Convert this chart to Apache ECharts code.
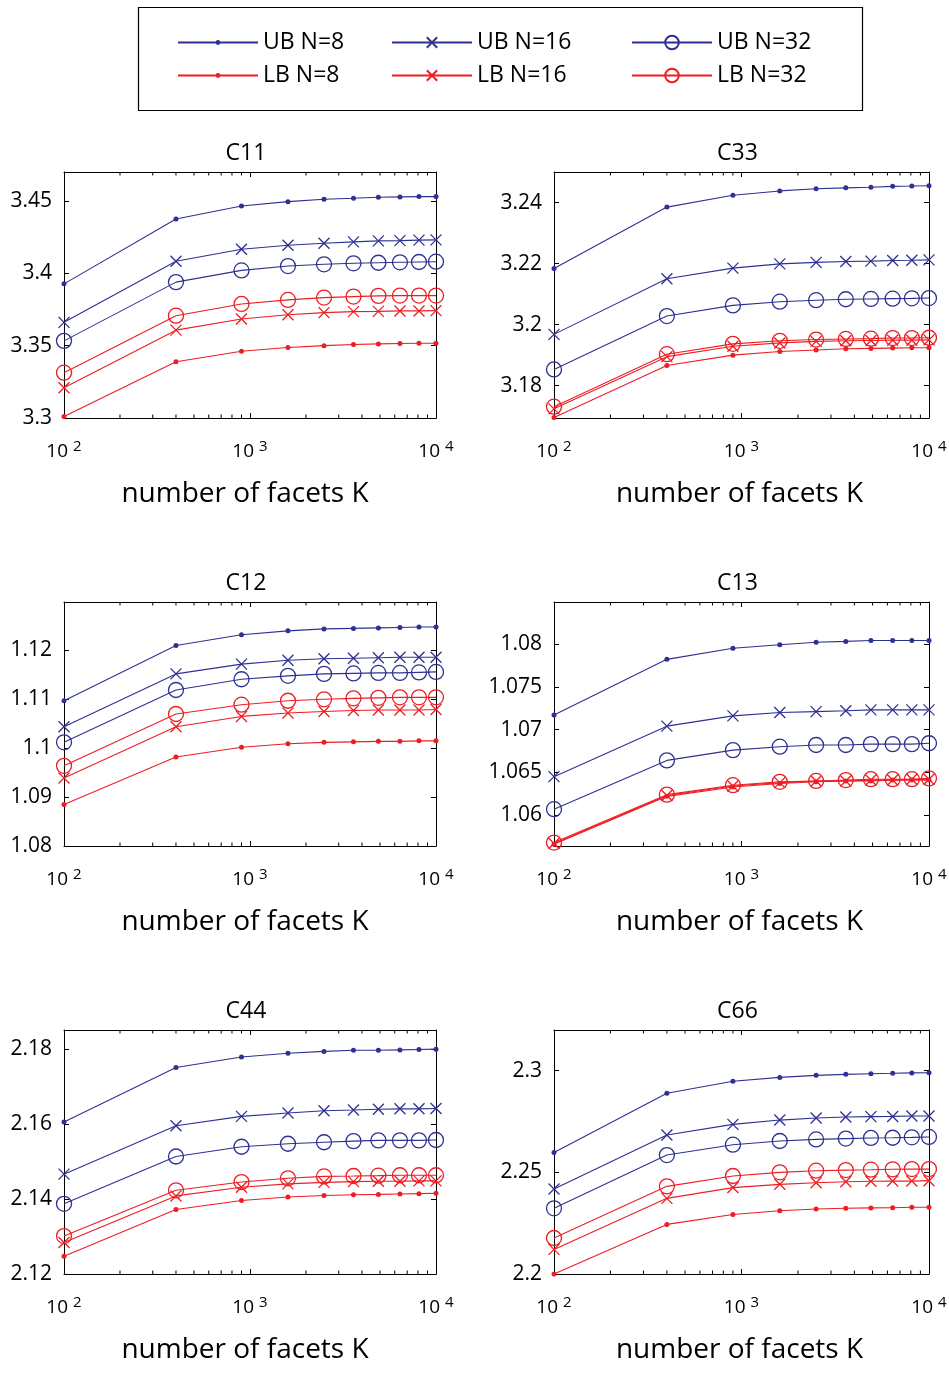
<!DOCTYPE html>
<html>
<head>
<meta charset="utf-8">
<script src="https://cdn.jsdelivr.net/npm/echarts@6/dist/echarts.min.js"></script>
<style>
html,body{margin:0;padding:0;background:#fff;}
#chart{width:949px;height:1374px;}
</style>
</head>
<body>
<div id="chart"></div>
<script>
// ---- data ----
const K = [100, 400, 900, 1600, 2500, 3600, 4900, 6400, 8100, 10000];
const minorK = [200, 300, 400, 500, 600, 700, 800, 900, 2000, 3000, 4000, 5000, 6000, 7000, 8000, 9000];
const seriesNames = ['UB N=8', 'UB N=16', 'UB N=32', 'LB N=8', 'LB N=16', 'LB N=32'];
const panelTitles = ['C11', 'C33', 'C12', 'C13', 'C44', 'C66'];
const yMinArr = [3.3, 3.1694, 1.08, 1.0564, 2.12, 2.2];
const yMaxArr = [3.47, 3.25, 1.1299, 1.0849, 2.185, 2.32];
const yStepArr = [0.05, 0.02, 0.01, 0.005, 0.02, 0.05];

const C11_UB8  = [3.3927, 3.4375, 3.4465, 3.4495, 3.4512, 3.4519, 3.4525, 3.4528, 3.4530, 3.4530];
const C11_UB16 = [3.3661, 3.4083, 3.4166, 3.4194, 3.4208, 3.4217, 3.4224, 3.4226, 3.4229, 3.4231];
const C11_UB32 = [3.3533, 3.3939, 3.4020, 3.4050, 3.4062, 3.4069, 3.4073, 3.4076, 3.4078, 3.4080];
const C11_LB8  = [3.3011, 3.3389, 3.3461, 3.3487, 3.3500, 3.3508, 3.3512, 3.3515, 3.3517, 3.3517];
const C11_LB16 = [3.3209, 3.3607, 3.3684, 3.3714, 3.3728, 3.3735, 3.3737, 3.3740, 3.3740, 3.3742];
const C11_LB32 = [3.3313, 3.3707, 3.3788, 3.3816, 3.3832, 3.3839, 3.3844, 3.3846, 3.3846, 3.3846];

const C33_UB8  = [3.2184, 3.2385, 3.2424, 3.2438, 3.2445, 3.2448, 3.2450, 3.2453, 3.2454, 3.2455];
const C33_UB16 = [3.1968, 3.2150, 3.2185, 3.2199, 3.2204, 3.2207, 3.2208, 3.2210, 3.2211, 3.2212];
const C33_UB32 = [3.1853, 3.2028, 3.2063, 3.2075, 3.2080, 3.2083, 3.2084, 3.2085, 3.2086, 3.2087];
const C33_LB8  = [3.1696, 3.1866, 3.1900, 3.1912, 3.1917, 3.1921, 3.1922, 3.1923, 3.1924, 3.1924];
const C33_LB16 = [3.1724, 3.1895, 3.1929, 3.1940, 3.1945, 3.1947, 3.1948, 3.1949, 3.1949, 3.1950];
const C33_LB32 = [3.1731, 3.1903, 3.1937, 3.1947, 3.1951, 3.1953, 3.1954, 3.1956, 3.1956, 3.1957];

const C12_UB8  = [1.1097, 1.1210, 1.1232, 1.1240, 1.1244, 1.1245, 1.1246, 1.1247, 1.1248, 1.1248];
const C12_UB16 = [1.1044, 1.1152, 1.1172, 1.1180, 1.1183, 1.1184, 1.1185, 1.1186, 1.1186, 1.1186];
const C12_UB32 = [1.1012, 1.1119, 1.1141, 1.1148, 1.1152, 1.1153, 1.1154, 1.1154, 1.1155, 1.1156];
const C12_LB8  = [1.0885, 1.0982, 1.1002, 1.1009, 1.1012, 1.1013, 1.1014, 1.1014, 1.1015, 1.1015];
const C12_LB16 = [1.0939, 1.1044, 1.1065, 1.1072, 1.1075, 1.1077, 1.1078, 1.1078, 1.1078, 1.1079];
const C12_LB32 = [1.0964, 1.1070, 1.1089, 1.1097, 1.1100, 1.1102, 1.1103, 1.1104, 1.1104, 1.1104];

const C13_UB8  = [1.0717, 1.0782, 1.0795, 1.0799, 1.0802, 1.0803, 1.0804, 1.0804, 1.0804, 1.0804];
const C13_UB16 = [1.0645, 1.0704, 1.0716, 1.0720, 1.0721, 1.0722, 1.0723, 1.0723, 1.0723, 1.0723];
const C13_UB32 = [1.0607, 1.0664, 1.0676, 1.0680, 1.0682, 1.0682, 1.0683, 1.0683, 1.0683, 1.0684];
const C13_LB8  = [1.0566, 1.0622, 1.0633, 1.0637, 1.0639, 1.0640, 1.0640, 1.0641, 1.0641, 1.0641];
const C13_LB16 = [1.0567, 1.0623, 1.0634, 1.0638, 1.0640, 1.0640, 1.0641, 1.0641, 1.0642, 1.0642];
const C13_LB32 = [1.0568, 1.0624, 1.0635, 1.0639, 1.0640, 1.0641, 1.0642, 1.0642, 1.0642, 1.0643];

const C44_UB8  = [2.1605, 2.1750, 2.1778, 2.1788, 2.1793, 2.1796, 2.1796, 2.1797, 2.1798, 2.1799];
const C44_UB16 = [2.1466, 2.1595, 2.1620, 2.1629, 2.1635, 2.1637, 2.1639, 2.1640, 2.1640, 2.1641];
const C44_UB32 = [2.1387, 2.1513, 2.1539, 2.1547, 2.1551, 2.1554, 2.1556, 2.1556, 2.1556, 2.1557];
const C44_LB8  = [2.1247, 2.1372, 2.1396, 2.1405, 2.1409, 2.1411, 2.1412, 2.1413, 2.1414, 2.1415];
const C44_LB16 = [2.1284, 2.1408, 2.1431, 2.1440, 2.1444, 2.1446, 2.1447, 2.1447, 2.1448, 2.1448];
const C44_LB32 = [2.1301, 2.1423, 2.1445, 2.1455, 2.1460, 2.1461, 2.1462, 2.1463, 2.1463, 2.1463];

const C66_UB8  = [2.2598, 2.2889, 2.2948, 2.2967, 2.2977, 2.2982, 2.2985, 2.2987, 2.2989, 2.2990];
const C66_UB16 = [2.2418, 2.2684, 2.2736, 2.2757, 2.2767, 2.2772, 2.2774, 2.2775, 2.2777, 2.2777];
const C66_UB32 = [2.2323, 2.2585, 2.2636, 2.2654, 2.2662, 2.2666, 2.2669, 2.2670, 2.2672, 2.2674];
const C66_LB8  = [2.2000, 2.2244, 2.2293, 2.2311, 2.2320, 2.2323, 2.2325, 2.2326, 2.2328, 2.2328];
const C66_LB16 = [2.2121, 2.2372, 2.2425, 2.2441, 2.2449, 2.2454, 2.2456, 2.2457, 2.2457, 2.2459];
const C66_LB32 = [2.2177, 2.2431, 2.2482, 2.2500, 2.2508, 2.2511, 2.2513, 2.2515, 2.2516, 2.2516];

const panelData = [
  [C11_UB8, C11_UB16, C11_UB32, C11_LB8, C11_LB16, C11_LB32],
  [C33_UB8, C33_UB16, C33_UB32, C33_LB8, C33_LB16, C33_LB32],
  [C12_UB8, C12_UB16, C12_UB32, C12_LB8, C12_LB16, C12_LB32],
  [C13_UB8, C13_UB16, C13_UB32, C13_LB8, C13_LB16, C13_LB32],
  [C44_UB8, C44_UB16, C44_UB32, C44_LB8, C44_LB16, C44_LB32],
  [C66_UB8, C66_UB16, C66_UB32, C66_LB8, C66_LB16, C66_LB32]
];

// ---- styling / layout ----
const FONT = 'Open Sans';
const BLUE = '#2E3192';
const RED = '#EE1D23';
const seriesColors = [BLUE, BLUE, BLUE, RED, RED, RED];
const XPATH = 'path://M0,0L10,10M10,0L0,10';
const grids = [
  {left: 64, top: 172, width: 372, height: 246},
  {left: 554, top: 172, width: 375, height: 246},
  {left: 64, top: 602, width: 372, height: 244},
  {left: 554, top: 602, width: 375, height: 244},
  {left: 64, top: 1030, width: 372, height: 244},
  {left: 554, top: 1030, width: 375, height: 244}
];
const titleTops = [141, 141, 571, 571, 999, 999];
const namePadRight = [10, 4, 10, 4, 10, 4];

function markerStyle(k, color) {
  const m = k % 3;
  if (m === 0) return {symbol: 'circle', symbolSize: 5, itemStyle: {color: color, borderWidth: 0}};
  if (m === 1) return {symbol: XPATH, symbolSize: 11, itemStyle: {color: 'rgba(0,0,0,0)', borderColor: color, borderWidth: 1.3}};
  return {symbol: 'circle', symbolSize: 15, itemStyle: {color: 'rgba(0,0,0,0)', borderColor: color, borderWidth: 1.3}};
}

function yFmt(step) {
  return function (v) {
    const r = v / step;
    if (Math.abs(r - Math.round(r)) > 1e-4) return '';
    return String(parseFloat(v.toFixed(4)));
  };
}

const option = {
  backgroundColor: '#fff',
  animation: false,
  textStyle: {fontFamily: FONT},
  grid: [], xAxis: [], yAxis: [], series: [], title: [],
  legend: [],
  graphic: [{
    type: 'rect', left: 136, top: 5,
    shape: {x: 0, y: 0, width: 724, height: 103},
    style: {fill: 'none', stroke: '#000', lineWidth: 1.2}, silent: true
  }]
};

const legendCols = [
  {left: 177, names: ['UB N=8', 'LB N=8'], itemHeight: 6},
  {left: 391, names: ['UB N=16', 'LB N=16'], itemHeight: 13},
  {left: 631, names: ['UB N=32', 'LB N=32'], itemHeight: 17}
];
legendCols.forEach(function (c) {
  option.legend.push({
    orient: 'vertical', left: c.left, top: 29.5, padding: 0,
    itemWidth: 80, itemHeight: c.itemHeight, itemGap: 7,
    selectedMode: false, data: c.names,
    textStyle: {fontFamily: FONT, fontSize: 23, color: '#000', lineHeight: 26}
  });
});

grids.forEach(function (g, i) {
  option.grid.push(Object.assign({outerBoundsMode: 'none', containLabel: false}, g));
  option.title.push({
    text: panelTitles[i], left: g.left + g.width / 2 - 4, top: titleTops[i], textAlign: 'center', padding: 0,
    textStyle: {fontFamily: FONT, fontSize: 23, fontWeight: 'normal', color: '#000', lineHeight: 24}
  });
  const axLine = {show: true, lineStyle: {color: '#000', width: 1}};
  const tick = {show: true, inside: true, length: 5, lineStyle: {color: '#000', width: 1}};
  // bottom x
  option.xAxis.push({
    type: 'log', logBase: 10, gridIndex: i, position: 'bottom', min: 100, max: 10000,
    axisLine: axLine, axisTick: tick, splitLine: {show: false},
    axisLabel: {
      margin: 21, color: '#000',
      formatter: function (v) { return '{b|10}{s|' + Math.round(Math.log10(v)) + '}'; },
      rich: {
        b: {fontFamily: FONT, fontSize: 19, lineHeight: 26, color: '#000'},
        s: {fontFamily: FONT, fontSize: 15, lineHeight: 8, verticalAlign: 'top', padding: [0, 0, 0, 5], color: '#000'}
      }
    },
    name: 'number of facets K', nameLocation: 'middle', nameGap: 61,
    nameTextStyle: {fontFamily: FONT, fontSize: 28, color: '#000', lineHeight: 30, padding: [0, namePadRight[i], 0, 0]}
  });
  // top x
  option.xAxis.push({
    type: 'log', logBase: 10, gridIndex: i, position: 'top', min: 100, max: 10000,
    axisLine: axLine, axisTick: tick, splitLine: {show: false}, axisLabel: {show: false}
  });
  // left y
  option.yAxis.push({
    type: 'value', gridIndex: i, position: 'left', min: yMinArr[i], max: yMaxArr[i],
    minInterval: yStepArr[i], maxInterval: yStepArr[i], splitNumber: 5,
    axisLine: axLine, axisTick: tick, splitLine: {show: false},
    axisLabel: {margin: 12, color: '#000', fontFamily: FONT, fontSize: 21, formatter: yFmt(yStepArr[i]), showMinLabel: true, showMaxLabel: true}
  });
  // right y
  option.yAxis.push({
    type: 'value', gridIndex: i, position: 'right', min: yMinArr[i], max: yMaxArr[i],
    minInterval: yStepArr[i], maxInterval: yStepArr[i], splitNumber: 5,
    axisLine: axLine, axisTick: tick, splitLine: {show: false}, axisLabel: {show: false}
  });
  // minor ticks on log axis
  option.series.push({
    type: 'custom', xAxisIndex: 2 * i, yAxisIndex: 2 * i, silent: true, z: 5, clip: false,
    data: minorK.map(function (v) { return [v, yMinArr[i]]; }),
    renderItem: function (params, api) {
      const x = api.coord([api.value(0), api.value(1)])[0];
      const cs = params.coordSys;
      const yb = cs.y + cs.height, yt = cs.y;
      return {type: 'group', children: [
        {type: 'line', shape: {x1: x, y1: yb, x2: x, y2: yb - 3.5}, style: {stroke: '#000', lineWidth: 1}},
        {type: 'line', shape: {x1: x, y1: yt, x2: x, y2: yt + 3.5}, style: {stroke: '#000', lineWidth: 1}}
      ]};
    }
  });
  panelData[i].forEach(function (arr, k) {
    const color = seriesColors[k];
    const ms = markerStyle(k, color);
    option.series.push({
      type: 'line', name: seriesNames[k], xAxisIndex: 2 * i, yAxisIndex: 2 * i,
      data: K.map(function (x, j) { return [x, arr[j]]; }),
      symbol: ms.symbol, symbolSize: ms.symbolSize, showSymbol: true, showAllSymbol: true,
      itemStyle: ms.itemStyle, color: color,
      lineStyle: {color: color, width: 1.1},
      clip: false, silent: true, emphasis: {disabled: true}
    });
  });
});

const chart = echarts.init(document.getElementById('chart'), null, {renderer: 'canvas'});
chart.setOption(option);
</script>
</body>
</html>
